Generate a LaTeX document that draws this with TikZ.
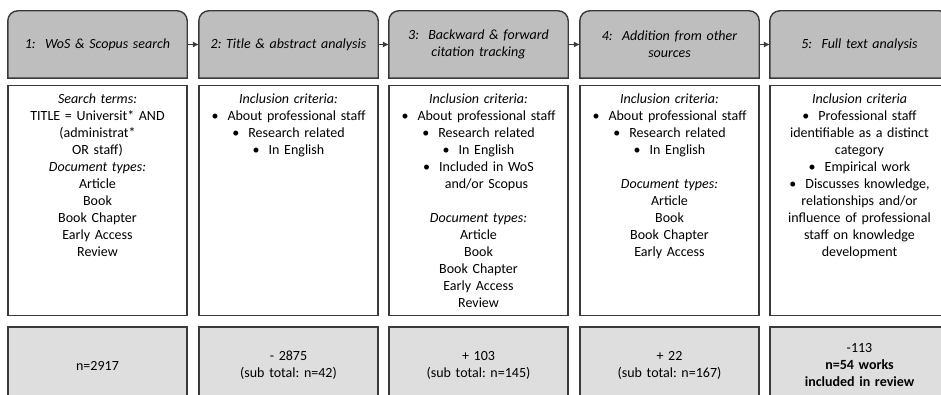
\documentclass[tikz,border=0pt]{standalone}
\usepackage{fontspec}
\setmainfont{Carlito}
\usetikzlibrary{arrows.meta}
\definecolor{hdrgray}{HTML}{BEBEBE}
\definecolor{botgray}{HTML}{DEDEDE}
\definecolor{edge}{HTML}{3A3A3A}
\frenchspacing
\begin{document}
\begin{tikzpicture}[x=1pt,y=-1pt,
  every node/.style={font=\fontsize{14}{17}\selectfont, text=black},
  frame/.style={draw=edge, line width=1.4pt, inner sep=0pt, minimum width=179pt},
  hdrslot/.style={inner sep=0pt, minimum width=179pt, minimum height=67pt, text width=170pt, align=center, font=\fontsize{14}{17}\selectfont\itshape},
  hdrshape/.style={draw=edge, line width=1.4pt, fill=hdrgray},
  midbox/.style={frame, minimum height=230pt},
  midtext/.style={inner sep=0pt, text width=174pt, align=center, anchor=north},
  botbox/.style={frame, fill=botgray, minimum height=77pt, text width=170pt, align=center},
  arr/.style={draw=edge, line width=0.8pt, -{Latex[length=6pt,width=6pt]}}
]
\useasboundingbox (0,0) rectangle (941,395);
\clip (0,0) rectangle (941,395);
\fill[white] (0,0) rectangle (941,395);

\newcommand{\hdr}[1]{%
  \draw[hdrshape] (#1.south west) -- ([yshift=-10pt]#1.north west)
    arc[start angle=180,end angle=90,radius=10pt]
    -- ([xshift=-10pt]#1.north east)
    arc[start angle=90,end angle=0,radius=10pt]
    -- (#1.south east) -- cycle;}

\node[hdrslot] (h1) at (97.5,44.5) {};
\node[hdrslot] (h2) at (288.5,44.5) {};
\node[hdrslot] (h3) at (478.5,44.5) {};
\node[hdrslot] (h4) at (669.5,44.5) {};
\node[hdrslot] (h5) at (859.5,44.5) {};
\hdr{h1}\hdr{h2}\hdr{h3}\hdr{h4}\hdr{h5}
\node[hdrslot] at (h1) {1:\ \ WoS \& Scopus search};
\node[hdrslot] at (h2) {2: Title \& abstract analysis};
\node[hdrslot] at (h3) {3:\ \ Backward \& forward\\citation tracking};
\node[hdrslot] at (h4) {4:\ \ Addition from other\\sources};
\node[hdrslot] at (h5) {5:\ \ Full text analysis};

\draw[arr] (h1.east) -- (h2.west);
\draw[arr] (h2.east) -- (h3.west);
\draw[arr] (h3.east) -- (h4.west);
\draw[arr] (h4.east) -- (h5.west);

% middle boxes
\node[midbox, anchor=north] (m1) at (97.5,85) {};
\node[midbox, anchor=north] (m2) at (288.5,85) {};
\node[midbox, anchor=north] (m3) at (478.5,85) {};
\node[midbox, anchor=north] (m4) at (669.5,85) {};
\node[midbox, anchor=north] (m5) at (859.5,85) {};

\newcommand{\bul}{•\hspace{9pt}}
\newcommand{\pbul}{\phantom{•\hspace{9pt}}}

\node[midtext] (t1) at ([yshift=-8.5pt]m1.north) {\textit{Search terms:}\\
TITLE = Universit* AND\\(administrat*\\OR staff)\\\textit{Document types:}\\Article\\Book\\Book Chapter\\Early Access\\Review};
\node[midtext] (t2) at ([yshift=-8.5pt]m2.north) {\textit{Inclusion criteria:}\\
\bul About professional staff\\\bul Research related\\\bul In English};
\node[midtext] (t3) at ([yshift=-8.5pt]m3.north) {\textit{Inclusion criteria:}\\
\bul About professional staff\\\bul Research related\\\bul In English\\\bul Included in WoS\\\pbul and/or Scopus\\[17pt]
\textit{Document types:}\\Article\\Book\\Book Chapter\\Early Access\\Review};
\node[midtext] (t4) at ([yshift=-8.5pt]m4.north) {\textit{Inclusion criteria:}\\
\bul About professional staff\\\bul Research related\\\bul In English\\[17pt]
\textit{Document types:}\\Article\\Book\\Book Chapter\\Early Access};
\node[midtext] (t5) at ([yshift=-8.5pt]m5.north) {\textit{Inclusion criteria}\\
\bul Professional staff\\identifiable as a distinct\\category\\\bul Empirical work\\\bul Discusses knowledge,\\relationships and/or\\influence of professional\\staff on knowledge\\development};

% bottom boxes
\node[botbox] (b1) at (97.5,365.5) {n=2917};
\node[botbox] (b2) at (288.5,365.5) {- 2875\\(sub total: n=42)};
\node[botbox] (b3) at (478.5,365.5) {+ 103\\(sub total: n=145)};
\node[botbox] (b4) at (669.5,365.5) {+ 22\\(sub total: n=167)};
\node[botbox] (b5) at (859.5,365.5) {-113\\\textbf{n=54 works}\\\textbf{included in review}};
\end{tikzpicture}
\end{document}
